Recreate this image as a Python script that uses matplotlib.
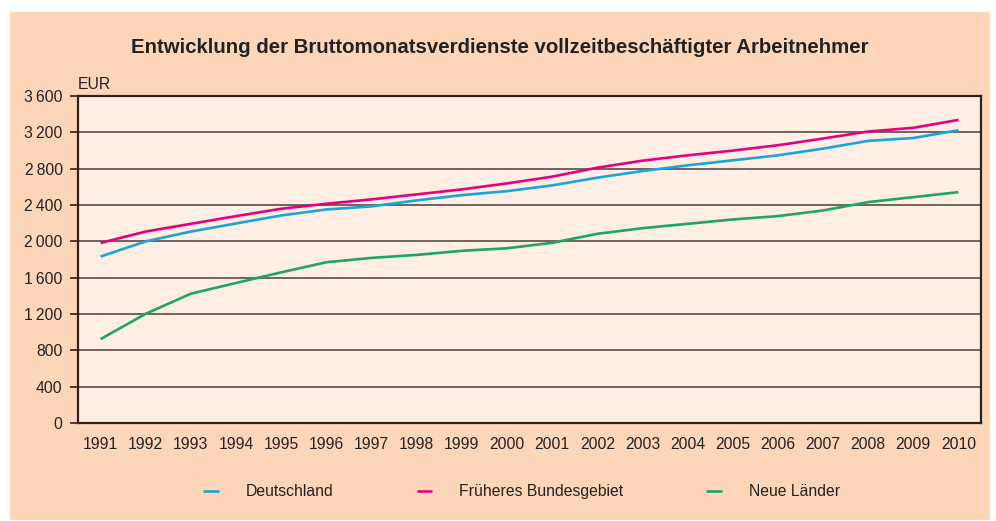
import numpy as np
import matplotlib.pyplot as plt
import matplotlib as mpl
from matplotlib.patches import Rectangle

plt.rcParams['font.family'] = ['Liberation Sans', 'DejaVu Sans']

years = list(range(1991, 2011))
deutschland = [1833, 2000, 2108, 2197, 2285, 2351, 2385, 2451, 2509, 2553,
               2616, 2701, 2774, 2837, 2892, 2947, 3021, 3106, 3138, 3223]
frueheres_bg = [1983, 2108, 2193, 2278, 2359, 2414, 2462, 2517, 2572, 2638,
                2712, 2811, 2888, 2947, 2999, 3058, 3132, 3209, 3250, 3337]
neue_laender = [924, 1203, 1424, 1542, 1659, 1770, 1818, 1851, 1896, 1924,
                1984, 2083, 2145, 2193, 2241, 2278, 2340, 2432, 2487, 2542]
series_names = ['Deutschland', 'Früheres Bundesgebiet', 'Neue Länder']
y_ticks = [0, 400, 800, 1200, 1600, 2000, 2400, 2800, 3200, 3600]

colors = ['#1ca3da', '#e5007d', '#1ea564']
outer_bg = '#fdd5b8'
inner_bg = '#feeee3'
dark = '#2e2220'
fs = 11.3

fig = plt.figure(figsize=(9.96, 5.21), dpi=100, facecolor='white')
fig.patches.append(Rectangle((0.010, 0.002), 0.984, 0.975, transform=fig.transFigure,
                             facecolor=outer_bg, edgecolor='none', zorder=-10))

ax = fig.add_axes([0.0783, 0.188, 0.9067, 0.6277])
ax.set_facecolor(inner_bg)

for vals, name, c in zip([deutschland, frueheres_bg, neue_laender], series_names, colors):
    ax.plot(years, vals, color=c, lw=1.9, label=name, solid_capstyle='butt')

ax.set_xlim(1990.5, 2010.5)
ax.set_ylim(0, 3600)
ax.set_xticks(years)
ax.set_xticklabels([str(y) for y in years])
ax.set_yticks(y_ticks)
ax.set_yticklabels([f'{v:,}'.replace(',', '\u2009') for v in y_ticks])
ax.yaxis.grid(True, color='#4a3c38', lw=1.1)
ax.set_axisbelow(True)

ax.tick_params(axis='x', length=0, pad=10, labelsize=fs, colors='#222222')
ax.tick_params(axis='y', length=6, width=1.2, pad=5, labelsize=fs,
               colors=dark, labelcolor='#222222')
for s in ax.spines.values():
    s.set_color(dark)
    s.set_linewidth(1.6)

ax.text(0.0, 1.012, 'EUR', transform=ax.transAxes, ha='left', va='bottom',
        fontsize=fs, color='#222222')

fig.text(0.502, 0.908, 'Entwicklung der Bruttomonatsverdienste vollzeitbeschäftigter Arbeitnehmer',
         ha='center', va='center', fontsize=14.7, fontweight='bold', color='#222222')

fig.legend(loc='center', bbox_to_anchor=(0.5236, 0.056), ncol=3, frameon=False,
           fontsize=fs, handlelength=1.0, handletextpad=1.7, columnspacing=5.3,
           labelcolor='#222222')

plt.savefig('out.png', dpi=100, facecolor=fig.get_facecolor())
